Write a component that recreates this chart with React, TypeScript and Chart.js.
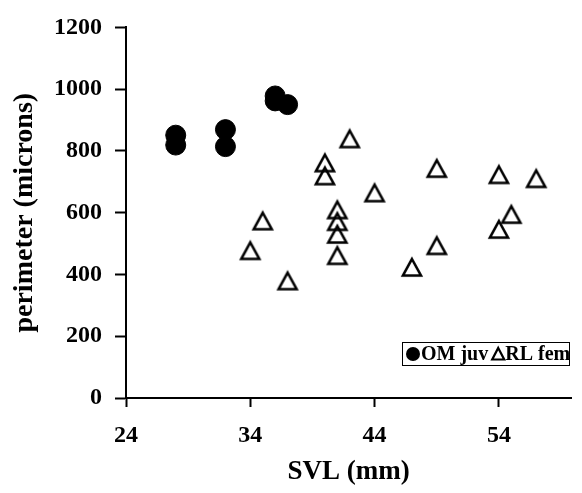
import React, { useEffect, useRef } from "react";
import { Chart, registerables } from "chart.js";

Chart.register(...registerables);

// ---- data ----
const seriesNames = ["OM juv", "RL fem"];
const omSvl = [28, 28, 32, 32, 36, 36, 37];
const omPerimeter = [851, 819, 869, 814, 978, 962, 950];
const rlSvl = [42, 40, 40, 49, 54, 57, 44, 41, 41, 41, 41, 35, 34, 37, 47, 49, 55, 54];
const rlPerimeter = [840, 762, 720, 744, 724, 711, 665, 610, 572, 531, 462, 574, 478, 380, 424, 494, 595, 547];
const xTicks = [24, 34, 44, 54];
const yTicks = [0, 200, 400, 600, 800, 1000, 1200];
const xTitle = "SVL (mm)";
const yTitle = "perimeter (microns)";

const SERIF = "'Liberation Serif', 'Times New Roman', serif";

function makeTriangle(): HTMLCanvasElement {
  const c = document.createElement("canvas");
  c.width = 24;
  c.height = 24;
  const g = c.getContext("2d")!;
  g.beginPath();
  g.moveTo(12, 4);
  g.lineTo(21, 20.5);
  g.lineTo(3, 20.5);
  g.closePath();
  g.lineWidth = 2.6;
  g.lineJoin = "miter";
  g.strokeStyle = "#000";
  g.stroke();
  return c;
}

const boxLegend = {
  id: "boxLegend",
  afterDraw(chart: any) {
    const { ctx, chartArea } = chart;
    ctx.save();
    const boxW = 167;
    const boxH = 23;
    const right = chartArea.right - 2;
    const bottom = chartArea.bottom - 33;
    const left = right - boxW;
    const top = bottom - boxH;
    ctx.fillStyle = "#fff";
    ctx.fillRect(left, top, boxW, boxH);
    ctx.strokeStyle = "#000";
    ctx.lineWidth = 1;
    ctx.strokeRect(left + 0.5, top + 0.5, boxW, boxH);
    const cy = top + boxH / 2 + 0.5;
    ctx.font = `bold 20px ${SERIF}`;
    ctx.textBaseline = "middle";
    ctx.textAlign = "left";
    let x = left + 4;
    // circle
    ctx.fillStyle = "#000";
    ctx.beginPath();
    ctx.arc(x + 7, cy, 7, 0, Math.PI * 2);
    ctx.fill();
    x += 15;
    ctx.fillText(seriesNames[0], x, cy + 1);
    x += ctx.measureText(seriesNames[0]).width + 4;
    // triangle
    ctx.beginPath();
    ctx.moveTo(x + 6, cy - 6);
    ctx.lineTo(x + 12, cy + 5.5);
    ctx.lineTo(x, cy + 5.5);
    ctx.closePath();
    ctx.lineWidth = 2.2;
    ctx.strokeStyle = "#000";
    ctx.stroke();
    x += 13;
    ctx.fillText(seriesNames[1], x, cy + 1);
    ctx.restore();
  },
};

export default function App() {
  const ref = useRef<HTMLCanvasElement>(null);

  useEffect(() => {
    document.body.style.margin = "0";
    const tri = makeTriangle();
    const chart = new Chart(ref.current!, {
      type: "scatter",
      data: {
        datasets: [
          {
            label: seriesNames[0],
            data: omSvl.map((v, i) => ({ x: v, y: omPerimeter[i] })),
            pointStyle: "circle",
            pointRadius: 10,
            pointHoverRadius: 10,
            backgroundColor: "#000",
            borderColor: "#000",
            borderWidth: 1,
          },
          {
            label: seriesNames[1],
            data: rlSvl.map((v, i) => ({ x: v, y: rlPerimeter[i] })),
            pointStyle: tri as any,
            pointRadius: 11,
            pointHoverRadius: 11,
            backgroundColor: "transparent",
            borderColor: "#000",
            borderWidth: 0,
          },
        ],
      },
      options: {
        animation: false,
        responsive: false,
        events: [],
        layout: { padding: { top: 23, right: 0, left: 0, bottom: 0 } },
        plugins: {
          legend: { display: false },
          tooltip: { enabled: false },
        },
        scales: {
          x: {
            type: "linear",
            min: 24,
            max: 59.8,
            afterBuildTicks: (s: any) => {
              s.ticks = xTicks.map((v) => ({ value: v }));
            },
            afterFit: (s: any) => {
              s.height = 95;
            },
            grid: {
              display: true,
              drawOnChartArea: false,
              drawTicks: true,
              tickLength: 9,
              tickColor: "#000",
              tickWidth: 2,
            },
            border: { display: true, color: "#000", width: 2 },
            ticks: {
              color: "#000",
              padding: 14,
              maxRotation: 0,
              autoSkip: false,
              callback: (v: any) => String(v),
              font: { family: SERIF, size: 24, weight: "bold" },
            },
            title: {
              display: true,
              text: xTitle,
              color: "#000",
              padding: { top: 0, bottom: 5 },
              font: { family: SERIF, size: 27, weight: "bold" },
            },
          },
          y: {
            type: "linear",
            min: 0,
            max: 1200,
            afterBuildTicks: (s: any) => {
              s.ticks = yTicks.map((v) => ({ value: v }));
            },
            afterFit: (s: any) => {
              s.width = 126;
            },
            grid: {
              display: true,
              drawOnChartArea: false,
              drawTicks: true,
              tickLength: 11,
              tickColor: "#000",
              tickWidth: 2,
            },
            border: { display: true, color: "#000", width: 2 },
            ticks: {
              color: "#000",
              padding: 13,
              autoSkip: false,
              callback: (v: any) => String(v),
              font: { family: SERIF, size: 24, weight: "bold" },
            },
            title: {
              display: true,
              text: yTitle,
              color: "#000",
              padding: { top: 8, bottom: 0 },
              font: { family: SERIF, size: 28, weight: "bold" },
            },
          },
        },
      },
      plugins: [boxLegend],
    });
    return () => chart.destroy();
  }, []);

  return (
    <div style={{ width: 582, height: 493, background: "#fff" }}>
      <canvas ref={ref} width={582} height={493} style={{ display: "block", width: 582, height: 493 }} />
    </div>
  );
}
